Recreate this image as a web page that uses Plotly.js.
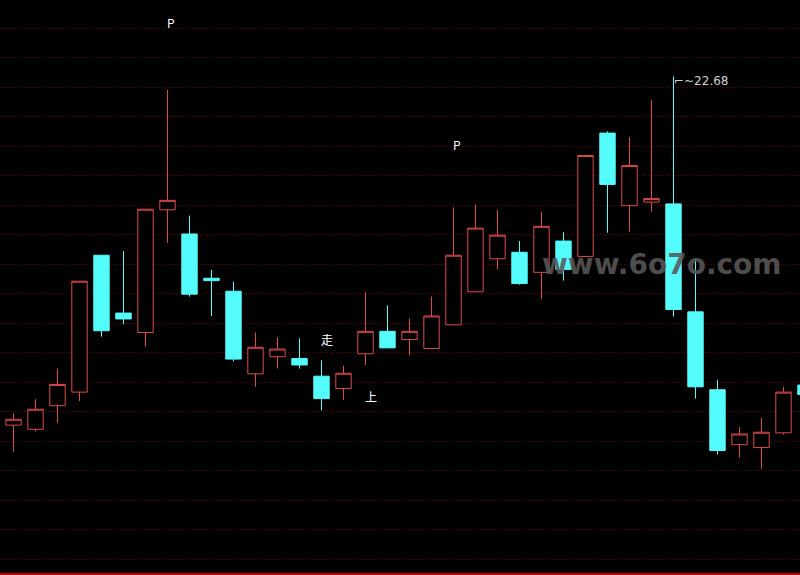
<!DOCTYPE html>
<html>
<head>
<meta charset="utf-8">
<script src="https://cdn.plot.ly/plotly-3.0.1.min.js"></script>
<style>
  html, body { margin: 0; padding: 0; background: #000; }
  #chart { width: 800px; height: 575px; }
</style>
</head>
<body>
<div id="chart"></div>
<script>
// Candle index (trading day order)
const days = [0,1,2,3,4,5,6,7,8,9,10,11,12,13,14,15,16,17,18,19,20,21,22,23,24,25,26,27,28,29,30,31,32,33,34,35,36];
const openP  = [16.77,16.70,17.10,17.33,19.65,18.67,18.34,20.42,20.01,19.26,19.04,17.64,17.93,17.90,17.60,17.39,17.98,18.36,18.22,18.07,18.47,19.03,19.59,19.70,19.36,19.89,19.63,21.72,20.49,20.55,20.52,18.69,17.37,16.44,16.39,16.64,17.45];
const highP  = [16.97,17.21,17.73,19.21,19.65,19.72,20.43,22.45,20.32,19.40,19.20,18.34,18.26,18.24,17.87,17.78,19.02,18.80,18.58,18.95,20.46,20.51,20.42,19.89,20.39,20.04,21.34,21.75,21.65,22.28,22.68,19.60,17.54,16.74,16.89,17.42,17.48];
const lowP   = [16.32,16.66,16.81,17.18,18.27,18.48,18.10,19.86,18.95,18.62,17.85,17.42,17.73,17.73,17.02,17.20,17.79,18.08,17.95,18.07,18.46,19.03,19.41,19.15,18.91,19.22,19.62,20.03,20.05,20.39,18.61,17.22,16.27,16.22,16.03,16.61,17.25];
const closeP = [16.87,17.04,17.46,19.21,18.37,18.57,20.43,20.58,18.99,19.22,17.89,18.09,18.06,17.79,17.22,17.65,18.36,18.08,18.36,18.62,19.65,20.11,19.99,19.17,20.14,19.41,21.34,20.85,21.17,20.61,18.73,17.42,16.34,16.62,16.65,17.33,17.29];

// Text marks on the chart
const labelText = ["P", "P", "走", "上"];
const labelX    = [7.14, 20.16, 14.23, 16.23];
const labelY    = [23.60, 21.53, 18.23, 17.26];
const peakText  = "⌐~22.68";
const peakIndex = 30;
const peakValue = 22.68;
const watermark = "www.6o7o.com";

const UP = "#dc4a4a", DOWN = "#54fcfc";

const trace = {
  type: "candlestick",
  x: days, open: openP, high: highP, low: lowP, close: closeP,
  increasing: { line: { color: UP, width: 1 }, fillcolor: "#000000" },
  decreasing: { line: { color: DOWN, width: 1 }, fillcolor: DOWN },
  whiskerwidth: 0,
  hoverinfo: "skip",
  showlegend: false
};

const annotations = labelText.map((t, i) => ({
  x: labelX[i], y: labelY[i], xref: "x", yref: "y", text: t, showarrow: false,
  font: { family: "Noto Sans CJK SC, DejaVu Sans, sans-serif", size: 12, color: "#ffffff" }
}));
annotations.push({
  x: peakIndex - 0.07, y: peakValue - 0.07, xref: "x", yref: "y", text: peakText,
  showarrow: false, xanchor: "left", yanchor: "middle",
  font: { family: "DejaVu Sans, sans-serif", size: 12, color: "#d0d0d0" }
});
annotations.push({
  x: 662 / 800, y: 1 - 264.5 / 573, xref: "paper", yref: "paper", text: "<b>" + watermark + "</b>",
  showarrow: false, xanchor: "center", yanchor: "middle",
  font: { family: "DejaVu Sans, sans-serif", size: 28, color: "rgba(88,88,88,0.88)" }
});

const layout = {
  width: 800, height: 575,
  margin: { l: 0, r: 0, t: 0, b: 2, pad: 0 },
  paper_bgcolor: "#000000", plot_bgcolor: "#000000",
  showlegend: false, hovermode: false,
  boxgap: 0.3, boxgroupgap: 0,
  xaxis: {
    range: [-13.5 / 22, -13.5 / 22 + 800 / 22],
    showgrid: false, zeroline: false, showticklabels: false, ticks: "",
    showline: true, linecolor: "#c80000", linewidth: 2,
    rangeslider: { visible: false }, fixedrange: true
  },
  yaxis: {
    range: [14.264, 23.976],
    tick0: 0, dtick: 0.5,
    showgrid: true, gridcolor: "#6e0000", gridwidth: 1, griddash: "1px,2px",
    zeroline: false, showticklabels: false, ticks: "", showline: false, fixedrange: true
  },
  annotations: annotations
};

Plotly.newPlot("chart", [trace], layout, { displayModeBar: false, staticPlot: true });
</script>
</body>
</html>
